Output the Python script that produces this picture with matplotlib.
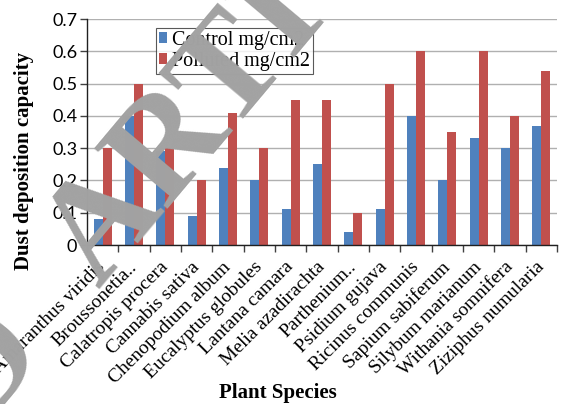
import numpy as np
import matplotlib
matplotlib.use("Agg")
import matplotlib.pyplot as plt
from matplotlib.patches import Patch

species = [
    "Amaranthus viridis", "Broussonetia..", "Calatropis procera", "Cannabis sativa",
    "Chenopodium album", "Eucalyptus globules", "Lantana camara", "Melia azadirachta",
    "Parthenium..", "Psidium gujava", "Ricinus communis", "Sapium sabiferum",
    "Silybum marianum", "Withania somnifera", "Ziziphus numularia",
]
control = [0.08, 0.40, 0.29, 0.09, 0.24, 0.20, 0.11, 0.25, 0.04, 0.11, 0.40, 0.20, 0.33, 0.30, 0.37]
polluted = [0.30, 0.50, 0.30, 0.20, 0.41, 0.30, 0.45, 0.45, 0.10, 0.50, 0.60, 0.35, 0.60, 0.40, 0.54]
y_ticks = [0, 0.1, 0.2, 0.3, 0.4, 0.5, 0.6, 0.7]
y_tick_labels = ["0", "0.1", "0.2", "0.3", "0.4", "0.5", "0.6", "0.7"]
series_names = ["Control mg/cm2", "Polluted mg/cm2"]

W, H = 562, 404
BLUE = "#4F81BD"
RED = "#C0504D"
SERIF = "Liberation Serif"

fig = plt.figure(figsize=(W / 100, H / 100), dpi=100)
ax = fig.add_axes([87 / W, 1 - 245 / H, 470 / W, 226 / H])

x = np.arange(len(species))
bw = 0.286
ax.bar(x - bw / 2, control, width=bw, color=BLUE, zorder=2)
ax.bar(x + bw / 2, polluted, width=bw, color=RED, zorder=2)

ax.set_xlim(-0.5, len(species) - 0.5)
ax.set_ylim(0, 0.7)
ax.set_yticks(y_ticks)
ax.set_yticklabels(y_tick_labels, family="Lato", fontsize=13)
ax.yaxis.grid(True, color="#b0b0b0", linewidth=1.0, zorder=0)
ax.set_axisbelow(True)

# category boundary ticks on the x axis, labels at category centres
ax.set_xticks(np.arange(len(species) + 1) - 0.5)
ax.set_xticklabels([])
ax.set_xticks(x, minor=True)
ax.set_xticklabels(species, minor=True, rotation=45, ha="right", va="center",
                   rotation_mode="anchor", family=SERIF, fontsize=14)
ax.tick_params(axis="x", which="minor", length=0, pad=14)
ax.tick_params(axis="x", which="major", length=5, width=1, color="#404040", direction="out")
ax.tick_params(axis="y", length=5, width=1, color="#404040", direction="out", pad=2)

for s in ("top", "right"):
    ax.spines[s].set_visible(False)
for s in ("left", "bottom"):
    ax.spines[s].set_color("#202020")
    ax.spines[s].set_linewidth(1.0)

handles = [Patch(facecolor=BLUE), Patch(facecolor=RED)]
leg = fig.legend(handles, series_names, loc="upper left",
                 bbox_to_anchor=(156 / W, 1 - 28 / H), bbox_transform=fig.transFigure,
                 borderaxespad=0, frameon=True, fancybox=False,
                 prop={"family": SERIF, "size": 14.5},
                 handlelength=0.42, handleheight=0.45, handletextpad=0.2,
                 borderpad=0.15, labelspacing=0.1)
leg.get_frame().set_edgecolor("#303030")
leg.get_frame().set_linewidth(0.8)

fig.text(24 / W, 1 - 161 / H, "Dust deposition capacity", rotation=90,
         ha="center", va="center", family=SERIF, fontweight="bold", fontsize=15)
fig.text(278 / W, 1 - 393 / H, "Plant Species", ha="center", va="center",
         family=SERIF, fontweight="bold", fontsize=15)

# diagonal watermark across the plot
ang = 50
c, s = np.cos(np.radians(ang)), np.sin(np.radians(ang))
ax_px, ay_px = 99, 289
fig.text(ax_px / W, 1 - ay_px / H, "ARTICLE", rotation=ang, rotation_mode="anchor",
         ha="left", va="baseline", family=SERIF, fontweight="bold", fontsize=104,
         color="#a2a2a2", zorder=10)
rx, ry = ax_px - 80 * c, ay_px + 80 * s
fig.text(rx / W, 1 - ry / H, "RETRACTED", rotation=ang, rotation_mode="anchor",
         ha="right", va="baseline", family=SERIF, fontweight="bold", fontsize=104,
         color="#a2a2a2", zorder=10)

fig.savefig("out.png", dpi=100)
